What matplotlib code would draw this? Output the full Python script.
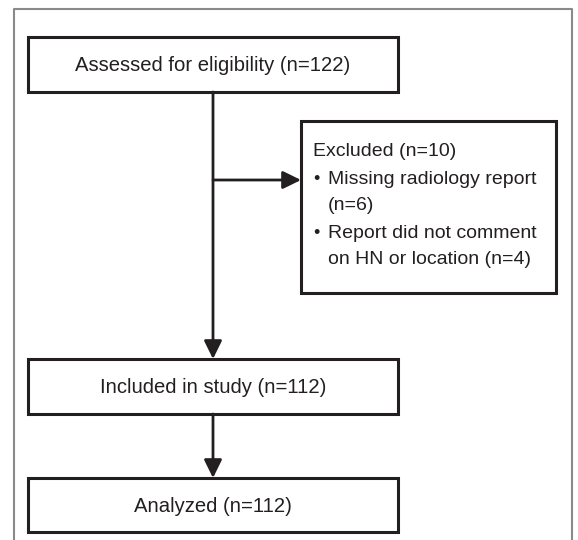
import matplotlib.pyplot as plt
from matplotlib.patches import Rectangle

# textes des boites
main_labels = ["Assessed for eligibility (n=122)",
               "Included in study (n=112)",
               "Analyzed (n=112)"]
excl_title = "Excluded (n=10)"
excl_items = [["Missing radiology report", "(n=6)"],
              ["Report did not comment", "on HN or location (n=4)"]]

plt.rcParams['font.family'] = ['Liberation Sans', 'DejaVu Sans']
FS = 14.6
FS_EX = 14.0
DARK = '#231f20'

fig = plt.figure(figsize=(5.78, 5.40), dpi=100)
ax = fig.add_axes([0, 0, 1, 1])
ax.set_xlim(0, 578)
ax.set_ylim(540, 0)
ax.axis('off')

# cadre exterieur (sans bord bas)
ax.plot([14, 14, 572, 572], [545, 9, 9, 545], color='#8a8a8a', lw=1.5)

# boites principales
box_y = [(37, 92), (359, 414), (478, 532)]
bx0, bx1 = 28, 398
cx = 213
for (y0, y1), lab in zip(box_y, main_labels):
    ax.add_patch(Rectangle((bx0, y0), bx1 - bx0, y1 - y0, fill=False,
                           ec=DARK, lw=2.2))
    ax.text((bx0 + bx1) / 2, (y0 + y1) / 2 + 1, lab, ha='center', va='center',
            fontsize=FS, color=DARK)

# boite exclusion
ex0, ex1, ey0, ey1 = 301, 556, 121, 293
ax.add_patch(Rectangle((ex0, ey0), ex1 - ex0, ey1 - ey0, fill=False,
                       ec=DARK, lw=2.2))
ax.text(313, 151, excl_title, ha='left', va='center', fontsize=FS_EX, color=DARK)
ys = [180, 206, 233, 260]
k = 0
for item in excl_items:
    ax.text(313, ys[k], "\u2022", ha='left', va='center', fontsize=FS_EX - 1, color=DARK)
    for line in item:
        ax.text(328, ys[k], line, ha='left', va='center', fontsize=FS_EX, color=DARK)
        k += 1

# fleches
arrow = dict(arrowstyle='-|>,head_length=0.55,head_width=0.27', color=DARK,
             lw=2, shrinkA=0, shrinkB=0, mutation_scale=20)
ax.annotate('', xy=(cx, box_y[1][0]), xytext=(cx, box_y[0][1]), arrowprops=arrow)
ax.annotate('', xy=(cx, box_y[2][0]), xytext=(cx, box_y[1][1]), arrowprops=arrow)
ax.annotate('', xy=(ex0, 180), xytext=(cx, 180), arrowprops=arrow)

fig.savefig('out.png', dpi=100)
